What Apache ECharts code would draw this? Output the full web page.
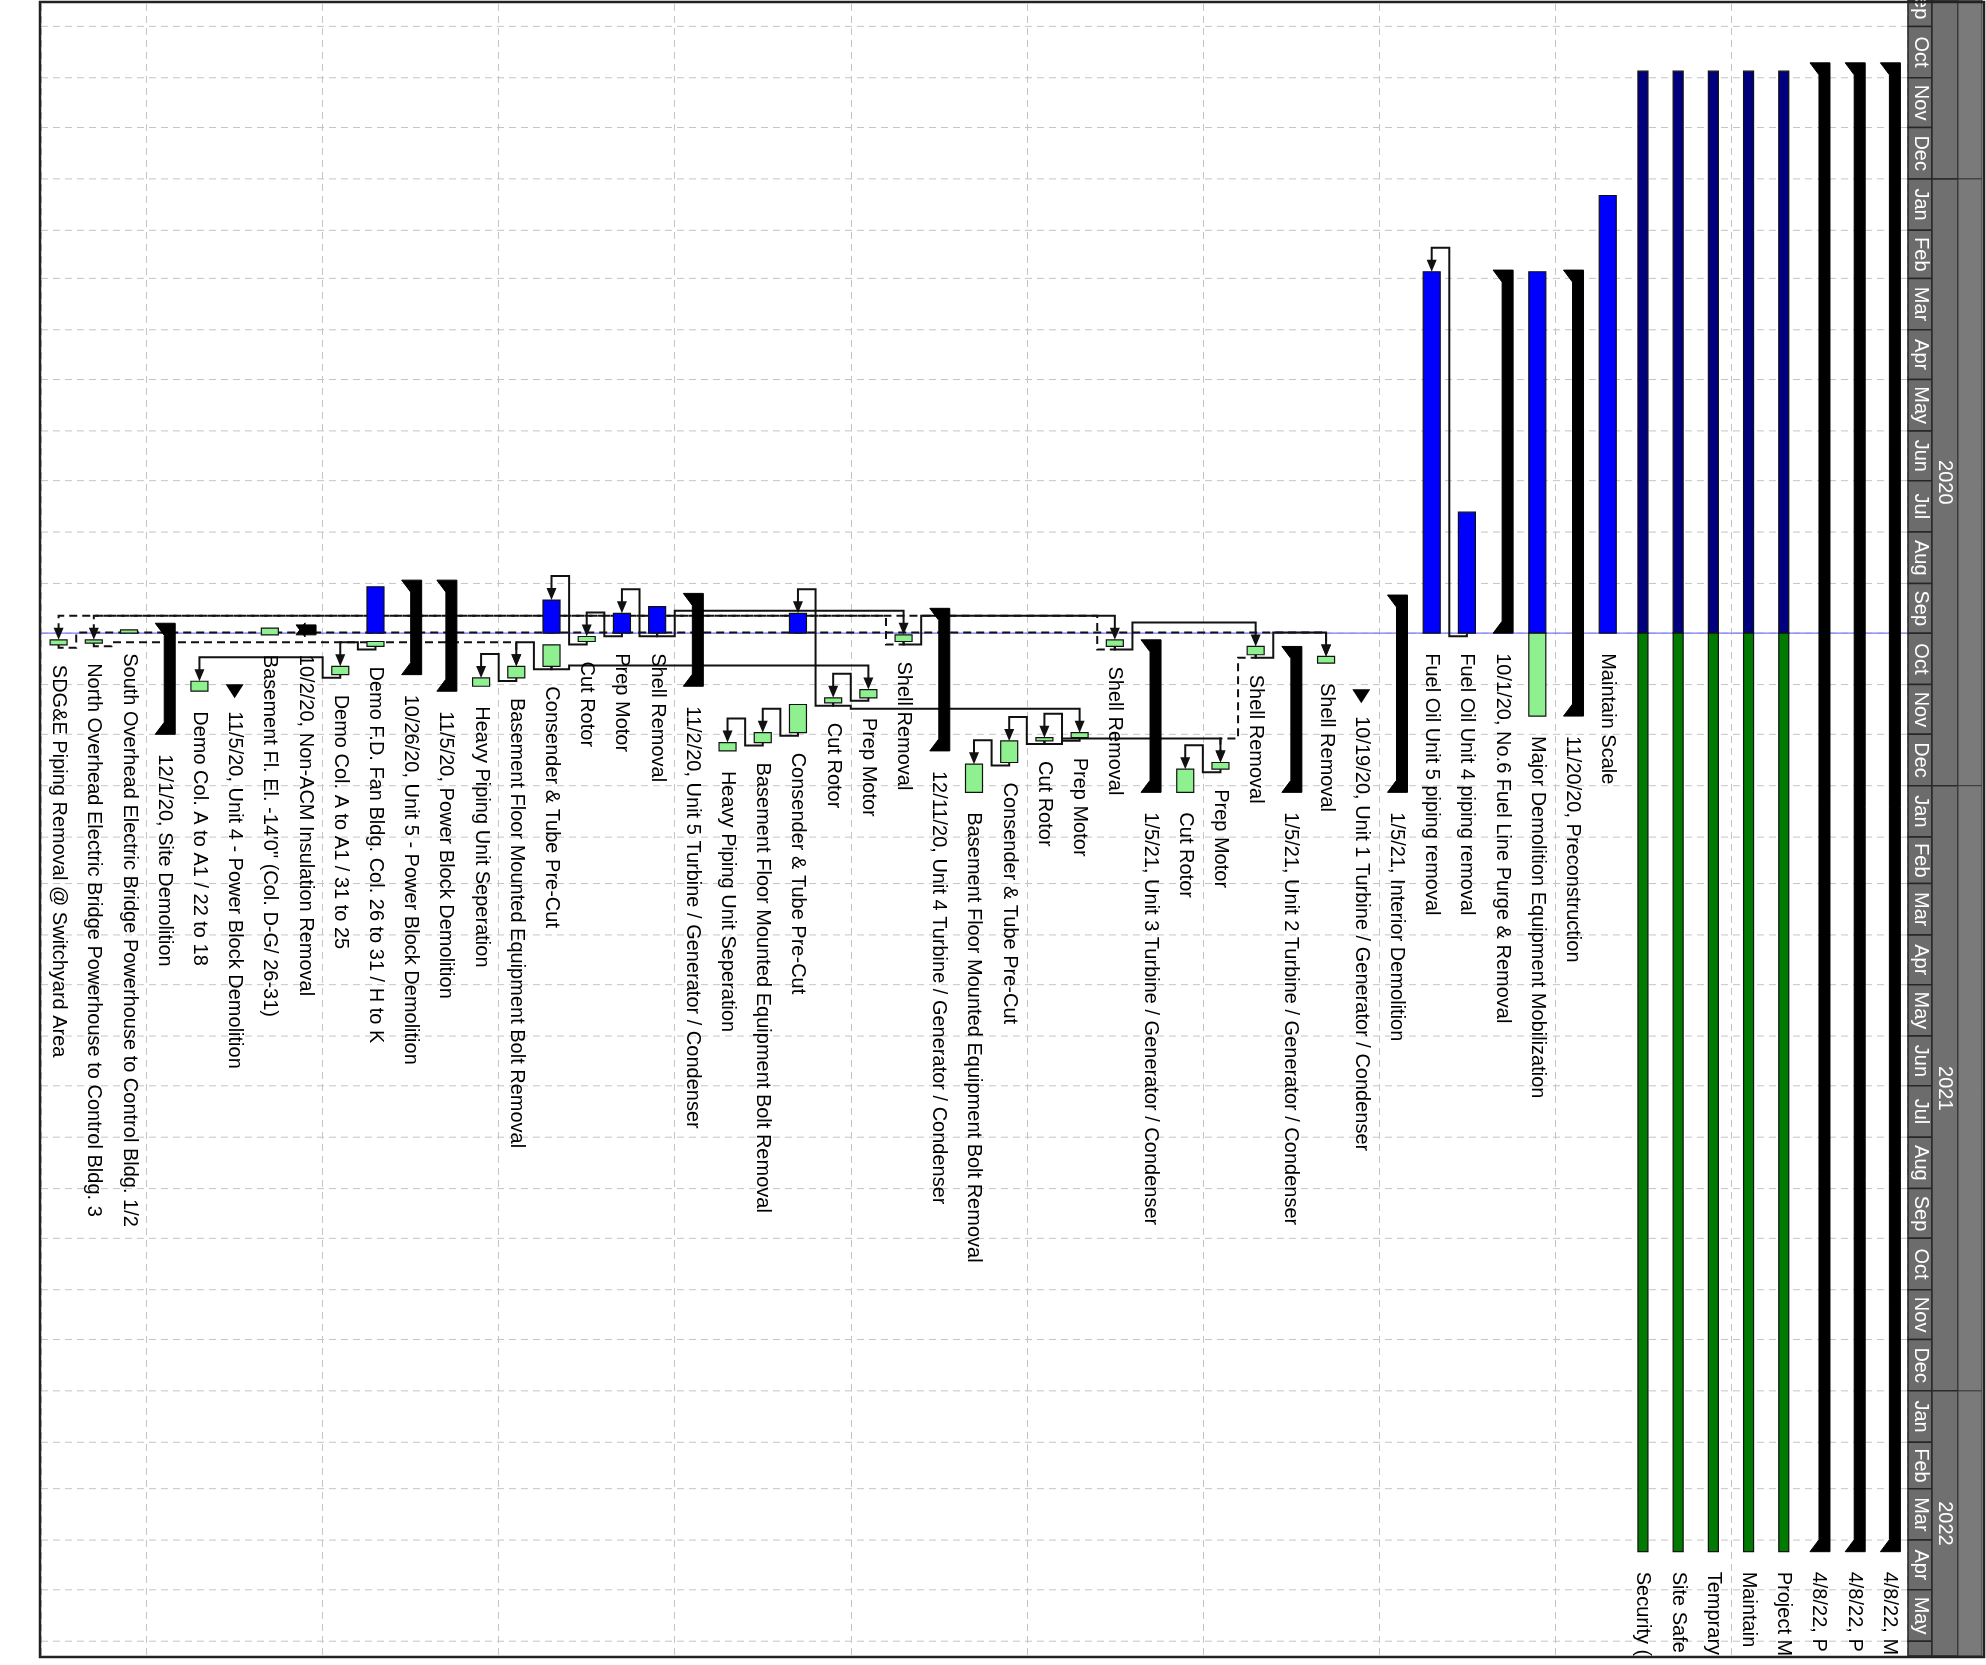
<!DOCTYPE html>
<html><head><meta charset="utf-8">
<script src="https://cdn.jsdelivr.net/npm/echarts/dist/echarts.min.js"></script>
<style>html,body{margin:0;padding:0;background:#fff}#c{width:1986px;height:1665px}</style>
</head><body><div id="c"></div>
<script>
// ---------------- DATA ----------------
const rowLabels = [
  '4/8/22, M', '4/8/22, P', '4/8/22, P', 'Project M', 'Maintain', 'Temprary', 'Site Safe', 'Security (',
  'Maintain Scale', '11/20/20, Preconstruction', 'Major Demolition Equipment Mobilization',
  '10/1/20, No.6 Fuel Line Purge & Removal', 'Fuel Oil Unit 4 piping removal', 'Fuel Oil Unit 5 piping removal',
  '1/5/21, Interior Demolition', '10/19/20, Unit 1 Turbine / Generator / Condenser', 'Shell Removal',
  '1/5/21, Unit 2 Turbine / Generator / Condenser', 'Shell Removal', 'Prep Motor', 'Cut Rotor',
  '1/5/21, Unit 3 Turbine / Generator / Condenser', 'Shell Removal', 'Prep Motor', 'Cut Rotor',
  'Consender & Tube Pre-Cut', 'Basement Floor Mounted Equipment Bolt Removal',
  '12/11/20, Unit 4 Turbine / Generator / Condenser', 'Shell Removal', 'Prep Motor', 'Cut Rotor',
  'Consender & Tube Pre-Cut', 'Basement Floor Mounted Equipment Bolt Removal', 'Heavy Piping Unit Seperation',
  '11/2/20, Unit 5 Turbine / Generator / Condenser', 'Shell Removal', 'Prep Motor', 'Cut Rotor',
  'Consender & Tube Pre-Cut', 'Basement Floor Mounted Equipment Bolt Removal', 'Heavy Piping Unit Seperation',
  '11/5/20, Power Block Demolition', '10/26/20, Unit 5 - Power Block Demolition',
  'Demo F.D. Fan Bldg. Col. 26 to 31 / H to K', 'Demo Col. A to A1 / 31 to 25',
  '10/2/20, Non-ACM Insulation Removal', 'Basement Fl. El. -14\'0" (Col. D-G/ 26-31)',
  '11/5/20, Unit 4 - Power Block Demolition', 'Demo Col. A to A1 / 22 to 18', '12/1/20, Site Demolition',
  'South Overhead Electric Bridge Powerhouse to Control Bldg. 1/2',
  'North Overhead Electric Bridge Powerhouse to Control Bldg. 3',
  'SDG&E Piping Removal @ Switchyard Area'
];
const rowKinds = [
  'sum','sum','sum','loe','loe','loe','loe','loe',
  'task','sum','task','sum','task','task',
  'sum','mile','task',
  'sum','task','task','task',
  'sum','task','task','task','task','task',
  'sum','task','task','task','task','task','task',
  'sum','task','task','task','task','task','task',
  'sum','sum','task','task','sum','task','mile','task','sum','task','task','task'
];
const starts = [
  '2019-10-23','2019-10-23','2019-10-23','2019-10-28','2019-10-28','2019-10-28','2019-10-28','2019-10-28',
  '2020-01-11','2020-02-25','2020-02-26','2020-02-25','2020-07-20','2020-02-26',
  '2020-09-08','2020-11-08','2020-10-15',
  '2020-10-09','2020-10-09','2020-12-18','2020-12-22',
  '2020-10-05','2020-10-05','2020-11-30','2020-12-03','2020-12-05','2020-12-19',
  '2020-09-16','2020-10-02','2020-11-04','2020-11-09','2020-09-19','2020-11-30','2020-12-06',
  '2020-09-07','2020-09-15','2020-09-19','2020-10-03','2020-09-11','2020-10-21','2020-10-28',
  '2020-08-30','2020-08-30','2020-09-03','2020-10-21','2020-09-26','2020-09-28','2020-11-05','2020-10-30',
  '2020-09-25','2020-09-29','2020-10-05','2020-10-05'
];
const finishes = [
  '2022-04-08','2022-04-08','2022-04-08','2022-04-08','2022-04-08','2022-04-08','2022-04-08','2022-04-08',
  '2020-10-01','2020-11-20','2020-11-20','2020-10-01','2020-10-01','2020-10-01',
  '2021-01-05','2020-11-08','2020-10-19',
  '2021-01-05','2020-10-14','2020-12-22','2021-01-05',
  '2021-01-05','2020-10-09','2020-12-03','2020-12-05','2020-12-18','2021-01-05',
  '2020-12-11','2020-10-06','2020-11-09','2020-11-12','2020-11-30','2020-12-06','2020-12-11',
  '2020-11-02','2020-10-01','2020-10-01','2020-10-06','2020-10-21','2020-10-28','2020-11-02',
  '2020-11-05','2020-10-26','2020-10-09','2020-10-26','2020-10-02','2020-10-02','2020-11-05','2020-11-05',
  '2020-12-01','2020-10-01','2020-10-07','2020-10-08'
];
// completed work runs from the start up to this date (blue); remaining work resumes on resumeOn (green)
const doneThrough = [
  null,null,null,'2020-10-01','2020-10-01','2020-10-01','2020-10-01','2020-10-01',
  '2020-10-01',null,'2020-10-01',null,'2020-10-01','2020-10-01',
  null,null,null, null,null,null,null, null,null,null,null,null,null,
  null,null,null,null,'2020-10-01',null,null,
  null,'2020-10-01','2020-10-01',null,'2020-10-01',null,null,
  null,null,'2020-10-01',null,null,null,null,null, null,null,null,null
];
const resumeOn = {31: '2020-11-13', 38: '2020-10-08', 43: '2020-10-06'};
const statusDate = '2020-10-01';

// dependency links (row indices); linkDashed = 1 for dashed connectors
const linkFrom   = [12, 35, 36, 37, 38, 39, 35, 28, 22, 18, 38, 29, 30, 31, 32, 30, 23, 24, 25, 24, 19, 43, 44, 28, 22, 18, 52, 51];
const linkTo     = [13, 36, 37, 38, 39, 40, 28, 22, 18, 16, 29, 30, 31, 32, 33, 23, 24, 25, 26, 19, 20, 44, 48, 52, 51, 19, 16, 39];
const linkDashed = [ 0,  0,  0,  0,  0,  0,  0,  0,  0,  0,  0,  0,  0,  0,  0,  0,  0,  0,  0,  0,  0,  0,  0,  1,  1,  1,  1,  1];

// time scale
const axisStart = '2019-09-17T12:00';
const axisEnd = '2022-06-09T22:00';
const monthNames = ['Jan','Feb','Mar','Apr','May','Jun','Jul','Aug','Sep','Oct','Nov','Dec'];
const years = [2019, 2020, 2021, 2022];

// ---------------- HELPERS ----------------
function ms(s) {
  const [dp, tp] = s.split('T');
  const [y, m, d] = dp.split('-').map(Number);
  let h = 0, mi = 0;
  if (tp) { [h, mi] = tp.split(':').map(Number); }
  return Date.UTC(y, m - 1, d, h, mi);
}
const FONT = '20px "Liberation Sans", Arial, sans-serif';
const months = [];
for (const y of years) for (let m = 0; m < 12; m++) {
  const s = Date.UTC(y, m, 1), e = Date.UTC(y, m + 1, 1);
  if (e > ms(axisStart) - 40 * 864e5 && s < ms(axisEnd) + 40 * 864e5) months.push([s, e, monthNames[m]]);
}
const yearSpans = years.map(y => [Date.UTC(y, 0, 1), Date.UTC(y + 1, 0, 1), String(y)]);

// ---------------- RENDERERS ----------------
function renderRow(params, api) {
  const i = api.value(0);
  const kind = rowKinds[i];
  const s = ms(starts[i]), f = ms(finishes[i]);
  const cx = api.coord([i, s])[0];
  const ys = api.coord([i, s])[1], ye = api.coord([i, f])[1];
  const ch = [];
  let labelY = ye + 20;
  if (kind === 'sum') {
    ch.push({type: 'polygon', shape: {points: [
      [cx + 11, ys], [cx - 9, ys], [cx, ys + 12], [cx, ye - 12], [cx - 9, ye], [cx + 11, ye]
    ]}, style: {fill: '#000', stroke: '#000', lineWidth: 1}});
  } else if (kind === 'mile') {
    ch.push({type: 'polygon', shape: {points: [[cx - 9, ys - 7], [cx + 9, ys - 7], [cx, ys + 7]]},
      style: {fill: '#000'}});
    labelY = ys + 20;
  } else {
    const half = kind === 'loe' ? 5 : 8.5;
    const doneC = kind === 'loe' ? '#00007e' : '#0000ff';
    const todoC = kind === 'loe' ? '#007a00' : '#8ff08f';
    const dt = doneThrough[i] ? ms(doneThrough[i]) : null;
    const seg = (a, b, col) => {
      const y0 = api.coord([i, a])[1], y1 = api.coord([i, b])[1];
      ch.push({type: 'rect', shape: {x: cx - half, y: y0, width: half * 2, height: Math.max(y1 - y0, 3)},
        style: {fill: col, stroke: '#111', lineWidth: 1.2}});
    };
    if (dt === null) seg(s, f, todoC);
    else if (dt >= f) seg(s, f, doneC);
    else {
      seg(s, dt, doneC);
      const r = resumeOn[i] ? ms(resumeOn[i]) : dt;
      seg(r, f, todoC);
    }
  }
  ch.push({type: 'text', x: cx, y: labelY, rotation: -Math.PI / 2, z2: 10,
    style: {text: rowLabels[i], font: FONT, fill: '#000', align: 'left', verticalAlign: 'middle'}});
  return {type: 'group', children: ch};
}

function renderLink(params, api) {
  const p = api.value(0), q = api.value(1), dashed = api.value(2);
  const bw = api.size([1, 0])[0];
  const P = api.coord([p, ms(finishes[p])]);
  const S = api.coord([q, ms(starts[q])]);
  const h = (S[0] < P[0] ? -1 : 1) * bw / 2;
  const yA = P[1] + 3, yB = S[1] - 24;
  const pts = [[P[0], P[1]], [P[0], yA], [P[0] + h, yA], [P[0] + h, yB], [S[0], yB], [S[0], S[1] - 9]];
  return {type: 'group', children: [
    {type: 'polyline', shape: {points: pts},
      style: {stroke: '#111', lineWidth: 2, fill: null, lineDash: dashed ? [8, 5] : null}},
    {type: 'polygon', shape: {points: [[S[0] - 5, S[1] - 12], [S[0] + 5, S[1] - 12], [S[0], S[1]]]},
      style: {fill: '#111'}}
  ]};
}

function renderGrid(params, api) {
  const cs = params.coordSys;
  const y = api.coord([0, api.value(0)])[1];
  if (y < cs.y || y > cs.y + cs.height) return;
  return {type: 'line', shape: {x1: cs.x, y1: y, x2: cs.x + cs.width, y2: y},
    style: {stroke: '#c4c4c4', lineWidth: 1, lineDash: [7, 5]}};
}

function renderStatus(params, api) {
  const cs = params.coordSys;
  const y = api.coord([0, api.value(0)])[1];
  return {type: 'line', shape: {x1: cs.x, y1: y, x2: cs.x + cs.width, y2: y},
    style: {stroke: '#7b7bff', lineWidth: 1.2}};
}

function renderMonth(params, api) {
  const cs = params.coordSys;
  const a = api.value(0), b = api.value(1);
  const y0 = api.coord([0, a])[1], y1 = api.coord([0, b])[1];
  const top = cs.y - 4, bot = cs.y + cs.height;
  const c0 = Math.max(y0, top), c1 = Math.min(y1, bot);
  if (c1 <= c0) return;
  const xL = cs.x + cs.width + 1;
  const ch = [
    {type: 'rect', shape: {x: xL, y: c0, width: 24, height: c1 - c0},
      style: {fill: '#6c6c6c', stroke: '#262626', lineWidth: 1.5}}
  ];
  const mid = (y0 + y1) / 2;
  if (mid < bot) ch.push({type: 'text', x: xL + 12.5, y: mid, rotation: -Math.PI / 2,
    style: {text: months[params.dataIndex][2], font: FONT, fill: '#fff', align: 'center', verticalAlign: 'middle'}});
  return {type: 'group', children: ch};
}

function renderYear(params, api) {
  const cs = params.coordSys;
  const a = api.value(0), b = api.value(1);
  const y0 = api.coord([0, a])[1], y1 = api.coord([0, b])[1];
  const top = cs.y - 4, bot = cs.y + cs.height;
  const c0 = Math.max(y0, top), c1 = Math.min(y1, bot);
  if (c1 <= c0) return;
  const xL = cs.x + cs.width + 25;
  const ch = [
    {type: 'rect', shape: {x: xL, y: c0, width: 26, height: c1 - c0},
      style: {fill: '#707070', stroke: '#2a2a2a', lineWidth: 1.5}},
    {type: 'rect', shape: {x: xL + 26, y: c0, width: 24, height: c1 - c0},
      style: {fill: '#7a7a7a', stroke: '#3a3a3a', lineWidth: 1}}
  ];
  if (c1 - c0 > 220) ch.push({type: 'text', x: xL + 13, y: (c0 + c1) / 2, rotation: -Math.PI / 2,
    style: {text: yearSpans[params.dataIndex][2], font: FONT, fill: '#fff', align: 'center', verticalAlign: 'middle'}});
  return {type: 'group', children: ch};
}

// ---------------- CHART ----------------
const chart = echarts.init(document.getElementById('c'), null, {renderer: 'canvas'});
chart.setOption({
  backgroundColor: '#fff',
  animation: false,
  grid: {left: 41, top: 4, width: 1866, height: 1652, containLabel: false},
  xAxis: {
    type: 'category', data: rowLabels.map((_, i) => i), inverse: true,
    axisLine: {show: false}, axisTick: {show: false}, axisLabel: {show: false},
    splitLine: {show: true, interval: (idx) => idx % 5 === 0,
      lineStyle: {color: '#c4c4c4', type: [7, 5], width: 1}}
  },
  yAxis: {
    type: 'value', inverse: true, min: ms(axisStart), max: ms(axisEnd),
    axisLine: {show: false}, axisTick: {show: false}, axisLabel: {show: false}, splitLine: {show: false}
  },
  series: [
    {type: 'custom', name: 'grid', clip: true, z: 1, renderItem: renderGrid,
      data: months.map(m => [m[0]])},
    {type: 'custom', name: 'status', clip: true, z: 2, renderItem: renderStatus,
      data: [[ms(statusDate)]]},
    {type: 'custom', name: 'links', clip: true, z: 3, renderItem: renderLink,
      data: linkFrom.map((p, k) => [p, linkTo[k], linkDashed[k]])},
    {type: 'custom', name: 'rows', clip: true, z: 4, renderItem: renderRow,
      data: rowLabels.map((_, i) => [i])},
    {type: 'custom', name: 'months', clip: false, z: 5, renderItem: renderMonth,
      data: months.map(m => [m[0], m[1]])},
    {type: 'custom', name: 'years', clip: false, z: 5, renderItem: renderYear,
      data: yearSpans.map(y => [y[0], y[1]])}
  ],
  graphic: [
    {type: 'rect', z: 100, shape: {x: 40, y: 2, width: 1944, height: 1655},
      style: {fill: null, stroke: '#222', lineWidth: 2.5}}
  ]
});
</script></body></html>
